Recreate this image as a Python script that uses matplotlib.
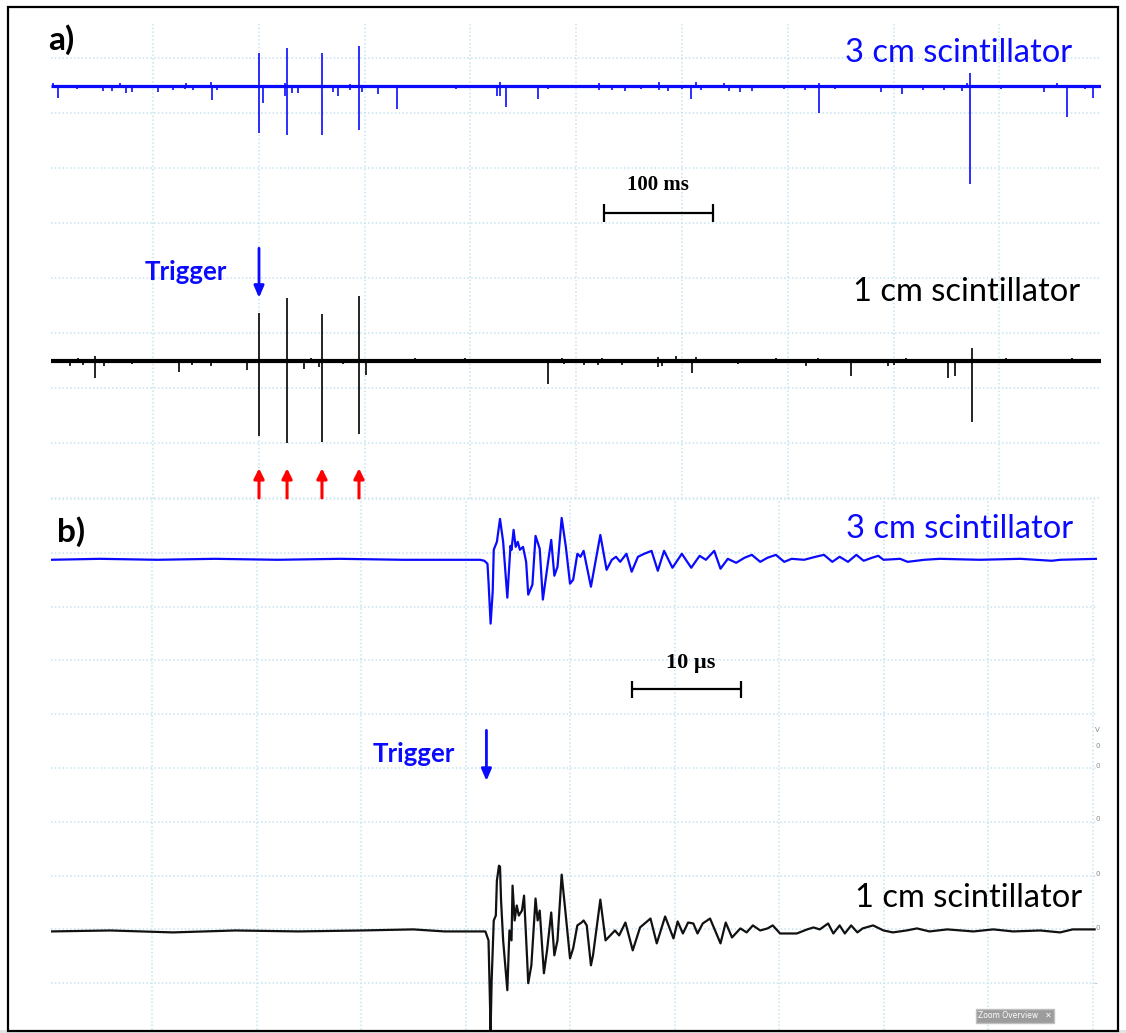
import numpy as np
import matplotlib.pyplot as plt
from matplotlib.patches import Rectangle

W, H = 1126, 1033

# ---------- panel a): long record, time in ms, amplitude in mV ----------
a_span = [-96.4, 896.0]
# (time ms, upper tip mV, lower tip mV) relative to the channel baseline
a3_events = [
    (-94.5, 2.7, 0), (-89.8, 0, -10.9), (-71.8, 0, -2.7), (-47.3, 0, -4.5), (-38.8, 0, -4.5),
    (-31.2, 2.7, 0), (-25.5, 0, -6.4), (-19.8, 0, -5.5), (4.7, 0, -5.5), (18.9, 0, -3.6),
    (30.2, 0, -2.7), (31.2, 2.7, 0), (37.8, 0, -3.6), (54.8, 3.6, 0), (55.8, 0, -12.7),
    (60.5, 0, -3.6), (100.2, 30.0, -42.7), (104.0, 0, -15.5), (124.8, 2.7, -9.1),
    (126.7, 34.5, -44.5), (131.4, 0, -6.4), (137.0, 0, -6.4), (159.7, 30.0, -44.5),
    (170.1, 0, -5.5), (174.9, 0, -9.1), (186.2, 1.8, -3.6), (194.7, 36.4, -40.0),
    (197.5, 0, -5.5), (212.7, 0, -7.3), (230.6, 0, -20.9), (286.4, 0, -2.7),
    (325.1, 0, -9.1), (328.0, 3.6, -9.1), (333.6, 0, -19.1), (363.9, 0, -11.8),
    (373.3, 0, -2.7), (421.6, 2.7, -3.6), (433.8, 0, -3.6), (446.1, 0, -4.5),
    (461.2, 0, -2.7), (478.3, 3.6, -3.6), (486.8, 0, -4.5), (500.0, 0, -2.7),
    (508.5, 0, -11.8), (513.2, 3.6, 0), (518.0, 0, -3.6), (539.7, 2.7, 0),
    (544.4, 0, -4.5), (554.8, 0, -5.5), (566.2, 0, -4.5), (596.4, 0, -2.7),
    (616.3, 0, -3.6), (629.5, 2.7, -24.5), (644.6, 0, -2.7), (688.1, 0, -5.5),
    (707.9, 0, -7.3), (727.8, 0, -3.6), (747.6, 0, -3.6), (764.7, 0, -4.5),
    (769.4, 2.7, 0), (772.2, 11.8, -89.1), (801.5, 0, -2.7), (842.2, 0, -5.5),
    (854.4, 2.7, 0), (863.9, 0, -28.2), (880.9, 0, -2.7), (888.5, 0, -10.9),
]
a1_events = [
    (-78.4, 0, -4.5), (-70.9, 2.7, 0), (-66.2, 0, -3.6), (-54.8, 4.5, -15.5),
    (-46.3, 0, -4.5), (-33.1, 1.8, 0), (-19.8, 0, -2.7), (-9.5, 1.8, 0),
    (24.6, 0, -10.0), (36.9, 0, -3.6), (49.1, 1.8, 0), (54.8, 0, -4.5),
    (88.8, 0, -8.2), (100.2, 43.6, -68.2), (126.7, 57.3, -74.5), (142.7, 0, -7.3),
    (149.3, 2.7, 0), (156.9, 0, -5.5), (159.7, 42.7, -73.6), (179.6, 0, -2.7),
    (194.7, 59.1, -66.4), (201.3, 0, -12.7), (247.6, 2.7, 0), (294.9, 2.7, 0),
    (373.3, 0, -20.9), (386.6, 2.7, 0), (388.5, 0, -2.7), (407.4, 0, -3.6),
    (420.6, 0, -3.6), (424.4, 2.7, 0), (443.3, 0, -3.6), (477.3, 3.6, -5.5),
    (481.1, 0, -4.5), (494.3, 4.5, 0), (509.5, 0, -10.9), (513.2, 3.6, 0),
    (552.9, 0, -2.7), (588.8, 2.7, 0), (617.2, 0, -4.5), (628.5, 2.7, 0),
    (659.7, 0, -13.6), (694.7, 0, -4.5), (700.4, 0, -3.6), (711.7, 2.7, 0),
    (751.4, 0, -15.5), (758.0, 0, -13.6), (774.1, 11.8, -55.5), (806.2, 2.7, 0),
    (868.6, 2.7, 0),
]
a_trigger_t = 100.2
a_marked_t = [100.2, 126.7, 159.7, 194.7]

# ---------- panel b): zoom on the trigger, time in us, amplitude in mV ----------
b_span = [-9.67, 90.43]
b3_trace = [
    (-9.7, 0), (-5.0, 0.9), (0.5, 0), (6.0, 0.9), (12.0, 0), (18.0, 0.9), (24.0, 0), (31.4, 0),
    (31.8, -0.9), (32.1, -3.7), (32.2, -20.4), (32.4, -59.3), (32.6, -29.6), (32.7, 9.3),
    (33.0, 16.7), (33.3, 38.0), (33.6, 16.7), (34.0, -35.2), (34.3, 13.0), (34.4, 9.3),
    (34.6, 27.8), (34.8, 12.0), (35.0, 16.7), (35.2, 9.3), (35.5, 12.0), (35.8, -1.9),
    (36.0, -32.4), (36.4, -23.1), (36.7, 22.2), (37.1, 10.2), (37.4, -37.0), (37.9, -1.9),
    (38.2, 18.5), (38.5, -14.8), (38.8, -6.5), (39.2, 38.9), (39.6, 12.0), (40.0, -22.2),
    (40.3, -18.5), (40.7, 5.6), (41.0, 2.8), (41.3, 8.3), (42.0, -25.0), (42.9, 23.1),
    (43.5, -9.3), (44.0, 0), (44.4, 2.8), (44.8, -1.9), (45.4, 5.6), (45.9, -11.1),
    (46.5, 2.8), (47.1, 5.6), (47.8, 8.3), (48.4, -10.2), (49.0, 8.3), (49.8, -7.4),
    (50.7, 5.6), (51.6, -7.4), (52.4, 3.7), (53.0, 0), (53.8, 8.3), (54.4, -8.3),
    (55.1, 0.9), (55.9, -2.8), (56.7, 1.9), (57.4, 4.6), (58.2, -1.9), (58.9, 1.9),
    (59.7, 4.6), (60.5, -1.9), (61.2, 0.9), (62.4, 0), (63.5, 2.8), (64.3, 4.6),
    (65.1, -1.9), (65.8, 2.8), (66.6, -1.9), (67.4, 4.6), (68.1, -0.9), (68.9, 1.9),
    (69.5, 3.7), (70.0, 0), (71.6, 0.9), (72.3, -1.9), (73.9, 0), (75.4, 0.9),
    (79.2, 0), (83.1, 0.9), (86.1, -0.9), (86.9, 0), (90.4, 0.9),
]
b1_trace = [
    (-9.7, 0), (-4.0, 0.9), (2.0, -0.9), (8.0, 0.9), (14.0, 0), (20.0, 0.9), (25.0, 1.9),
    (28.0, 0), (31.9, 0),
    (32.2, -8.3), (32.4, -91.7), (32.5, -45.4), (32.7, 10.2), (32.9, 14.8), (33.0, 47.2),
    (33.2, 61.1), (33.3, 60.2), (33.4, 28.7), (33.6, -8.3), (34.0, -54.6), (34.2, 0.9),
    (34.4, -8.3), (34.5, 42.6), (34.7, 10.2), (34.9, 24.1), (35.1, 14.8), (35.4, 19.4),
    (35.6, 33.3), (35.9, -26.9), (36.0, -48.1), (36.3, -31.5), (36.7, 30.6), (36.9, 10.2),
    (37.1, 19.4), (37.5, -38.9), (37.8, -17.6), (38.2, 17.6), (38.5, -22.2), (38.8, -8.3),
    (39.2, 52.8), (39.5, 24.1), (40.0, -25.0), (40.3, -15.7), (40.7, 5.6), (41.1, 8.3),
    (41.3, 10.2), (41.6, 5.6), (42.0, -31.5), (42.2, -22.2), (42.9, 29.6), (43.4, -8.3),
    (44.3, 0.9), (44.7, -3.7), (45.3, 8.3), (46.0, -17.6), (46.7, 3.7), (47.7, 12.0),
    (48.3, -11.1), (49.1, 13.9), (49.9, -6.5), (50.3, 9.3), (50.8, -1.9), (51.3, 8.3),
    (51.8, 7.4), (52.2, -1.9), (52.7, 7.4), (53.4, 12.0), (54.4, -11.1), (54.9, 8.3),
    (55.5, -5.6), (56.3, 2.8), (56.9, -0.9), (57.5, 5.6), (58.2, 0.9), (58.9, 2.8),
    (59.4, 5.6), (60.1, -1.9), (60.8, -1.9), (61.7, -1.9), (62.7, 1.9), (63.3, 3.7),
    (63.9, 1.9), (64.7, 7.4), (65.2, -1.9), (65.8, 5.6), (66.3, -1.9), (66.9, 5.6),
    (67.5, -0.9), (68.0, 2.8), (69.0, 5.6), (70.0, 0.9), (70.9, -0.9), (72.2, 0.9),
    (73.2, 2.8), (74.4, 0), (76.1, 1.9), (78.6, 0), (80.5, 1.9), (82.4, 0), (85.0, 0.9),
    (86.9, -0.9), (88.1, 1.9), (90.2, 1.9),
]
b_trigger_t = 32.0

BLUE = '#0a0aff'
GRID = '#c6e3f1'


def fx(px):
    return px / W


def fy(py):
    return 1 - py / H


def style_axes(ax, xlim, ylim, xgrid, ygrid):
    ax.set_xlim(*xlim)
    ax.set_ylim(*ylim)
    ax.set_xticks(xgrid)
    ax.set_yticks(ygrid)
    ax.grid(True, color=GRID, linestyle=(0, (1, 1.5)), linewidth=1.1)
    ax.tick_params(length=0, labelbottom=False, labelleft=False)
    for s in ax.spines.values():
        s.set_visible(False)
    ax.patch.set_alpha(0)
    ax.set_axisbelow(True)


fig = plt.figure(figsize=(W / 100, H / 100), dpi=100)

# ---- panel a) ----
axa = fig.add_axes([fx(51), fy(499), (1101 - 51) / W, (499 - 22) / H])
style_axes(axa, a_span, (-0.9, 432.7), np.arange(0, 801, 100), np.arange(0, 401, 50))
a3_off, a1_off = 374.5, 124.5

for ev, off, col, lw in [(a3_events, a3_off, BLUE, 2.3), (a1_events, a1_off, 'black', 3.0)]:
    t, hi, lo = np.array(ev).T
    axa.plot(a_span, [off, off], color=col, lw=lw, solid_capstyle='butt')
    axa.vlines(t, off + lo, off + hi, color=col, lw=1.2)

axa.annotate('', xy=(a_trigger_t, 182), xytext=(a_trigger_t, 227),
             arrowprops=dict(arrowstyle='-|>,head_length=0.7,head_width=0.3',
                             color=BLUE, lw=2, shrinkA=0, shrinkB=0))
for t in a_marked_t:
    axa.annotate('', xy=(t, 27), xytext=(t, 0),
                 arrowprops=dict(arrowstyle='-|>,head_length=0.6,head_width=0.3',
                                 color='#ff0000', lw=2.2, shrinkA=0, shrinkB=0))
# 100 ms scale bar
axa.hlines(259, 426.3, 529.3, color='black', lw=1.6)
axa.vlines([426.3, 529.3], 251, 267, color='black', lw=1.6)

# ---- panel b) ----
axb = fig.add_axes([fx(51), fy(1030), (1097 - 51) / W, (1030 - 499) / H])
style_axes(axb, b_span, (-43.5, 448.1), np.arange(0, 91, 10), np.arange(0, 451, 50))
b3_off, b1_off = 393.5, 48.1
t3, v3 = np.array(b3_trace).T
t1, v1 = np.array(b1_trace).T
axb.plot(t3, v3 + b3_off, color=BLUE, lw=1.6, solid_joinstyle='round')
axb.plot(t1, v1 + b1_off, color='#111111', lw=1.6, solid_joinstyle='round')

axb.annotate('', xy=(b_trigger_t, 188), xytext=(b_trigger_t, 235),
             arrowprops=dict(arrowstyle='-|>,head_length=0.7,head_width=0.3',
                             color=BLUE, lw=2, shrinkA=0, shrinkB=0))
# 10 us scale bar
axb.hlines(273, 45.9, 56.4, color='black', lw=1.6)
axb.vlines([45.9, 56.4], 265, 281, color='black', lw=1.6)

# ---- text ----
sans = 'Lato'
fig.text(fx(48), fy(50), 'a)', fontsize=24, fontweight='bold', family=sans, va='baseline')
fig.text(fx(57), fy(542), 'b)', fontsize=24, fontweight='bold', family=sans, va='baseline')
fig.text(fx(1072), fy(62), '3 cm scintillator', fontsize=23.5, family=sans, color=BLUE,
         ha='right', va='baseline')
fig.text(fx(1080), fy(301), '1 cm scintillator', fontsize=23.5, family=sans, color='black',
         ha='right', va='baseline')
fig.text(fx(1073), fy(538), '3 cm scintillator', fontsize=23.5, family=sans, color=BLUE,
         ha='right', va='baseline')
fig.text(fx(1082), fy(907), '1 cm scintillator', fontsize=23.5, family=sans, color='black',
         ha='right', va='baseline')
fig.text(fx(145), fy(280), 'Trigger', fontsize=18.5, fontweight='bold', family=sans,
         color=BLUE, va='baseline')
fig.text(fx(373), fy(762), 'Trigger', fontsize=18.5, fontweight='bold', family=sans,
         color=BLUE, va='baseline')
fig.text(fx(658), fy(190), '100 ms', fontsize=15, fontweight='bold', family='Liberation Serif',
         ha='center', va='baseline')
fig.text(fx(691), fy(668), '10 \u00b5s', fontsize=16, fontweight='bold', family='Liberation Serif',
         ha='center', va='baseline')

# leftover oscilloscope widgets
fig.text(fx(978), fy(1016), 'Zoom Overview   \u2715', fontsize=5.5, color='white',
         va='center', bbox=dict(boxstyle='square,pad=0.3', fc='#9c9c9c', ec='#c0c0c0'))
for y, s in [(730, 'V'), (746, '0'), (766, '0'), (819, '0'), (874, '0'), (928, '0'), (983, '-')]:
    fig.text(fx(1095), fy(y), s, fontsize=5, color='#8a8a8a', va='center')

# frame and bottom strip
fig.add_artist(Rectangle((0, 0), 1, 3 / H, transform=fig.transFigure, color='#e4e4e4', lw=0))
fig.add_artist(Rectangle((fx(8), fy(1031)), (1118 - 8) / W, (1031 - 7) / H,
                         transform=fig.transFigure, fill=False, lw=1.6, ec='black'))

fig.savefig('out.png', dpi=100)
